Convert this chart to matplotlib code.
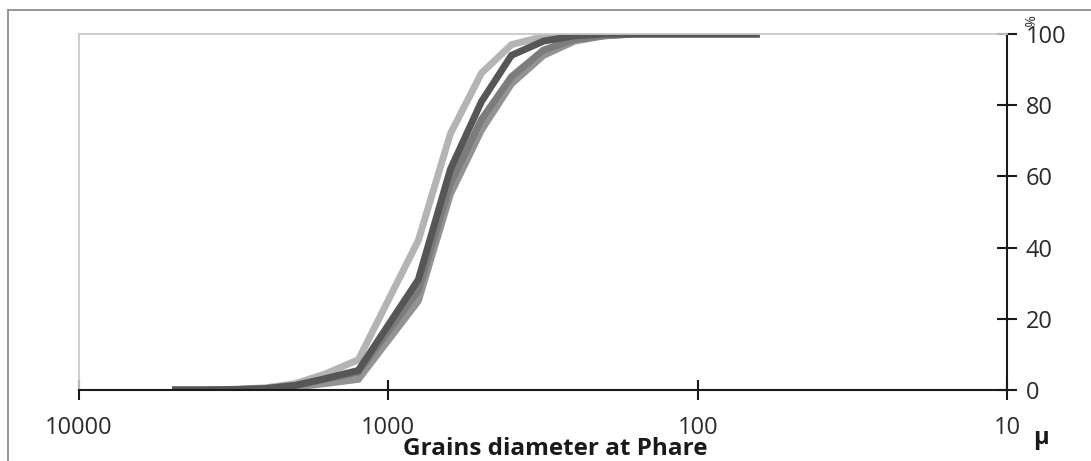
import matplotlib
matplotlib.use("Agg")
import matplotlib.pyplot as plt
from matplotlib.ticker import FixedLocator, FixedFormatter, NullLocator
from matplotlib.lines import Line2D

plt.rcParams['font.family'] = ['Open Sans', 'DejaVu Sans']

# sieve openings (µm)
sieves = [5000, 4000, 3150, 2500, 2000, 1600, 1250, 800, 630, 500, 400, 315,
          250, 200, 160, 125, 100, 80, 63]

# cumulative passing (%) for each sample
light = [0, 0, 0.2, 0.6, 1.8, 4.5, 8.5, 42, 72, 89, 97, 99.3, 99.8, 100, 100, 100, 100, 100, 100]
mid_dark = [0, 0, 0.1, 0.4, 1.2, 3.0, 5.0, 28, 58, 76, 88, 95.5, 98.5, 99.5, 100, 100, 100, 100, 100]
mid = [0, 0, 0.1, 0.3, 0.8, 1.8, 3.0, 25, 55, 73, 86, 94, 98, 99.5, 100, 100, 100, 100, 100]
dark = [0, 0, 0.1, 0.4, 1.3, 3.2, 5.5, 31, 62, 81, 94, 98, 99.5, 100, 100, 100, 100, 100, 100]

series = [(light, '#b4b4b4'), (mid, '#939393'), (mid_dark, '#7c7c7c'), (dark, '#565656')]

x_ticks = [10000, 1000, 100, 10]
x_labels = ['10000', '1000', '100', '10']
y_ticks = [0, 20, 40, 60, 80, 100]
y_labels = ['0', '20', '40', '60', '80', '100']

W, H = 1091, 461
fig = plt.figure(figsize=(W / 100, H / 100), dpi=100)
fig.patch.set_facecolor('white')

def fx(px):
    return px / W

def fy(py):
    return 1 - py / H

# outer chart border
fig.add_artist(Line2D([fx(8), fx(W + 5)], [fy(10), fy(10)], color='#8f8f8f', lw=1.3))
fig.add_artist(Line2D([fx(8), fx(8)], [fy(10), fy(H + 5)], color='#8f8f8f', lw=1.3))

left, right, top, bottom = 79, 1007, 34, 390
ax = fig.add_axes([fx(left), fy(bottom), (right - left) / W, (bottom - top) / H])

for vals, col in series:
    ax.plot(sieves, vals, color=col, lw=5.0, solid_capstyle='butt', solid_joinstyle='miter')

ax.set_xscale('log')
ax.set_xlim(10000, 10)
ax.set_ylim(0, 100)

ax.spines['top'].set_color('#c8c8c8')
ax.spines['left'].set_color('#c8c8c8')
ax.spines['top'].set_linewidth(1.3)
ax.spines['left'].set_linewidth(1.3)
ax.spines['bottom'].set_color('#1a1a1a')
ax.spines['right'].set_color('#1a1a1a')
ax.spines['bottom'].set_linewidth(1.5)
ax.spines['right'].set_linewidth(1.5)

ax.xaxis.set_major_locator(FixedLocator(x_ticks))
ax.xaxis.set_major_formatter(FixedFormatter(x_labels))
ax.xaxis.set_minor_locator(NullLocator())
ax.yaxis.tick_right()
ax.set_yticks(y_ticks)
ax.set_yticklabels(y_labels)
ax.tick_params(axis='both', direction='inout', length=15, width=1.5, color='#1a1a1a',
               labelsize=17, labelcolor='#2a2a2a')
ax.tick_params(axis='x', pad=11)
ax.tick_params(axis='y', pad=6)

fig.text(fx(555), fy(449), 'Grains diameter at Phare', ha='center', va='center',
         fontsize=17.5, fontweight='bold', color='#1a1a1a')
fig.text(fx(1041), fy(438), 'μ', ha='center', va='center', fontsize=17,
         fontweight='bold', color='#1a1a1a')
fig.text(fx(1027), fy(21), '%', ha='center', va='center', fontsize=10,
         rotation=-90, color='#2a2a2a')

fig.savefig('out.png', dpi=100, facecolor='white')
